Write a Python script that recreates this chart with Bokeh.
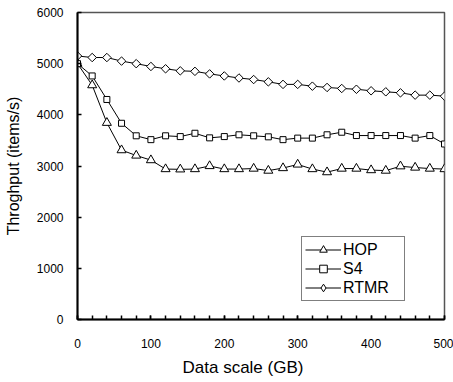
from bokeh.plotting import figure
from bokeh.models import Range1d, SingleIntervalTicker, Legend, LegendItem, Title
from bokeh.embed import file_html
from bokeh.resources import INLINE
import math

# Data
data_scale = [0, 20, 40, 60, 80, 100, 120, 140, 160, 180, 200, 220, 240,
              260, 280, 300, 320, 340, 360, 380, 400, 420, 440, 460, 480, 500]
hop = [5000, 4580, 3845, 3310, 3205, 3115, 2940, 2935, 2940, 3000, 2940, 2940, 2950,
       2910, 2960, 3030, 2940, 2880, 2950, 2950, 2920, 2910, 2995, 2970, 2950, 2940]
s4 = [5000, 4760, 4300, 3835, 3590, 3515, 3590, 3575, 3640, 3550, 3575, 3610, 3590,
      3570, 3515, 3545, 3545, 3610, 3660, 3595, 3595, 3595, 3595, 3545, 3595, 3430]
rtmr = [5150, 5120, 5120, 5050, 5000, 4945, 4900, 4860, 4850, 4800, 4760, 4720, 4690,
        4645, 4595, 4595, 4560, 4535, 4515, 4500, 4470, 4450, 4430, 4385, 4385, 4365]

FONT = "Liberation Sans"

p = figure(width=453, height=382, output_backend="svg", toolbar_location=None,
           x_range=Range1d(0, 500), y_range=Range1d(0, 6000),
           min_border_left=77, min_border_right=9, min_border_top=12, min_border_bottom=10)

p.xgrid.visible = False
p.ygrid.visible = False
p.background_fill_color = "white"
p.border_fill_color = "white"
p.outline_line_color = "#555555"
p.outline_line_width = 1.5

# X axis
p.xaxis.ticker = SingleIntervalTicker(interval=100, num_minor_ticks=5)
p.xaxis.axis_line_width = 2
p.xaxis.axis_line_color = "black"
p.xaxis.major_tick_in = 4
p.xaxis.major_tick_out = 0
p.xaxis.minor_tick_in = 4
p.xaxis.minor_tick_out = 0
p.xaxis.major_tick_line_width = 1.5
p.xaxis.minor_tick_line_width = 1.5
p.xaxis.major_label_text_font = FONT
p.xaxis.major_label_text_font_size = "12px"
p.xaxis.major_label_text_color = "black"
p.xaxis.major_label_standoff = 19

# Y axis
p.yaxis.ticker = SingleIntervalTicker(interval=1000, num_minor_ticks=0)
p.yaxis.axis_line_width = 2
p.yaxis.axis_line_color = "black"
p.yaxis.major_tick_in = 4
p.yaxis.major_tick_out = 0
p.yaxis.minor_tick_in = 0
p.yaxis.minor_tick_out = 0
p.yaxis.minor_tick_line_color = None
p.yaxis.major_tick_line_width = 1.5
p.yaxis.major_label_text_font = FONT
p.yaxis.major_label_text_font_size = "12px"
p.yaxis.major_label_text_color = "black"
p.yaxis.major_label_standoff = 14
p.yaxis.axis_label = "Throghput (items/s)"
p.yaxis.axis_label_text_font = FONT
p.yaxis.axis_label_text_font_size = "16px"
p.yaxis.axis_label_text_font_style = "normal"
p.yaxis.axis_label_text_color = "black"
p.yaxis.axis_label_standoff = 12

xtitle = Title(text="Data scale (GB)", align="left", offset=105,
               text_font=FONT, text_font_size="17px", text_font_style="normal",
               text_color="black", standoff=11)
p.add_layout(xtitle, "below")

# Series
l1 = p.line(data_scale, hop, line_color="black", line_width=1)
m1 = p.scatter(data_scale, hop, marker="triangle", size=9, fill_color="white",
               line_color="black", line_width=1)
l2 = p.line(data_scale, s4, line_color="black", line_width=1)
m2 = p.scatter(data_scale, s4, marker="square", size=6, fill_color="white",
               line_color="black", line_width=1)
l3 = p.line(data_scale, rtmr, line_color="black", line_width=1)
m3 = p.scatter(data_scale, rtmr, marker="square", angle=math.pi / 4, size=6,
               fill_color="white", line_color="black", line_width=1)
m3_key = p.scatter(data_scale, rtmr, marker="diamond", size=11, fill_color="white",
                   line_color="black", line_width=1, visible=False)

legend = Legend(items=[LegendItem(label="HOP", renderers=[l1, m1]),
                       LegendItem(label="S4", renderers=[l2, m2]),
                       LegendItem(label="RTMR", renderers=[l3, m3_key])],
                location=(224, 18), padding=3, spacing=0, margin=0,
                label_height=19, glyph_height=19, glyph_width=36, label_standoff=2,
                label_width=58,
                label_text_font=FONT, label_text_font_size="16px",
                label_text_color="black",
                border_line_color="black", border_line_width=1,
                background_fill_color="white", background_fill_alpha=1)
p.add_layout(legend, "center")

open("out.html", "w").write(file_html(p, INLINE))
